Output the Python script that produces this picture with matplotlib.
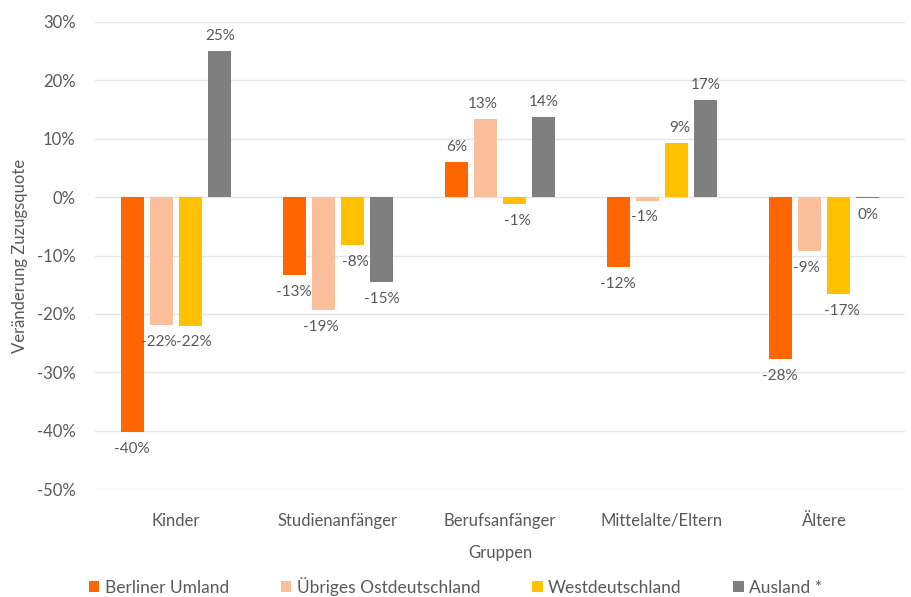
import matplotlib.pyplot as plt
import numpy as np

plt.rcParams['font.family'] = ['Lato', 'DejaVu Sans']

gruppen = ["Kinder", "Studienanfänger", "Berufsanfänger", "Mittelalte/Eltern", "Ältere"]
serien = ["Berliner Umland", "Übriges Ostdeutschland", "Westdeutschland", "Ausland *"]
berliner_umland = [-40.2, -13.4, 6.0, -12.0, -27.7]
uebriges_ost = [-21.9, -19.3, 13.4, -0.6, -9.2]
westdeutschland = [-22.0, -8.2, -1.2, 9.2, -16.6]
ausland = [25.0, -14.6, 13.7, 16.6, -0.2]
farben = ["#FF6600", "#FBC09B", "#FFC000", "#7F7F7F"]

text_col = "#595959"

fig = plt.figure(figsize=(9.11, 5.97), dpi=100)
ax = fig.add_axes([95 / 911, 1 - 489 / 597, 810 / 911, 467 / 597])

x = np.arange(len(gruppen))
step = 0.18
width = 0.14
# kleine seitliche Verschiebung der Beschriftungen, damit sie sich nicht berühren
dx = [0, -2, 2, 0]
werte = [berliner_umland, uebriges_ost, westdeutschland, ausland]
for i, (name, vals) in enumerate(zip(serien, werte)):
    pos = x + (i - 1.5) * step
    ax.bar(pos, vals, width=width, color=farben[i], label=name, zorder=3)
    for p, v in zip(pos, vals):
        txt = "%d%%" % round(v)
        if round(v) == 0:
            txt = "0%"
        if v >= 0:
            ax.annotate(txt, (p, v), xytext=(dx[i], 6), textcoords="offset points",
                        ha="center", va="bottom", fontsize=11, color=text_col)
        else:
            ax.annotate(txt, (p, v), xytext=(dx[i], -7), textcoords="offset points",
                        ha="center", va="top", fontsize=11, color=text_col)

ax.set_ylim(-50, 30)
ax.set_xlim(-0.5, 4.5)
ax.set_yticks(np.arange(-50, 31, 10))
ax.set_yticklabels(["%d%%" % t for t in np.arange(-50, 31, 10)])
ax.set_xticks(x)
ax.set_xticklabels(gruppen)
ax.tick_params(axis="both", length=0, labelsize=12, colors=text_col)
ax.tick_params(axis="x", pad=17)
ax.tick_params(axis="y", pad=14)
ax.grid(axis="y", color="#E5E5E5", linewidth=1, zorder=0)
for s in ax.spines.values():
    s.set_visible(False)

ax.set_xlabel("Gruppen", fontsize=12, color=text_col, labelpad=12)
ax.set_ylabel("Veränderung Zuzugsquote", fontsize=12, color=text_col, labelpad=6)

fig.legend(loc="lower center", ncol=4, frameon=False, fontsize=12.5, labelcolor=text_col,
           bbox_to_anchor=(0.5, -0.024), handlelength=0.6, handleheight=0.6,
           handletextpad=0.3, columnspacing=3.0)

fig.savefig("out.png", dpi=100)
